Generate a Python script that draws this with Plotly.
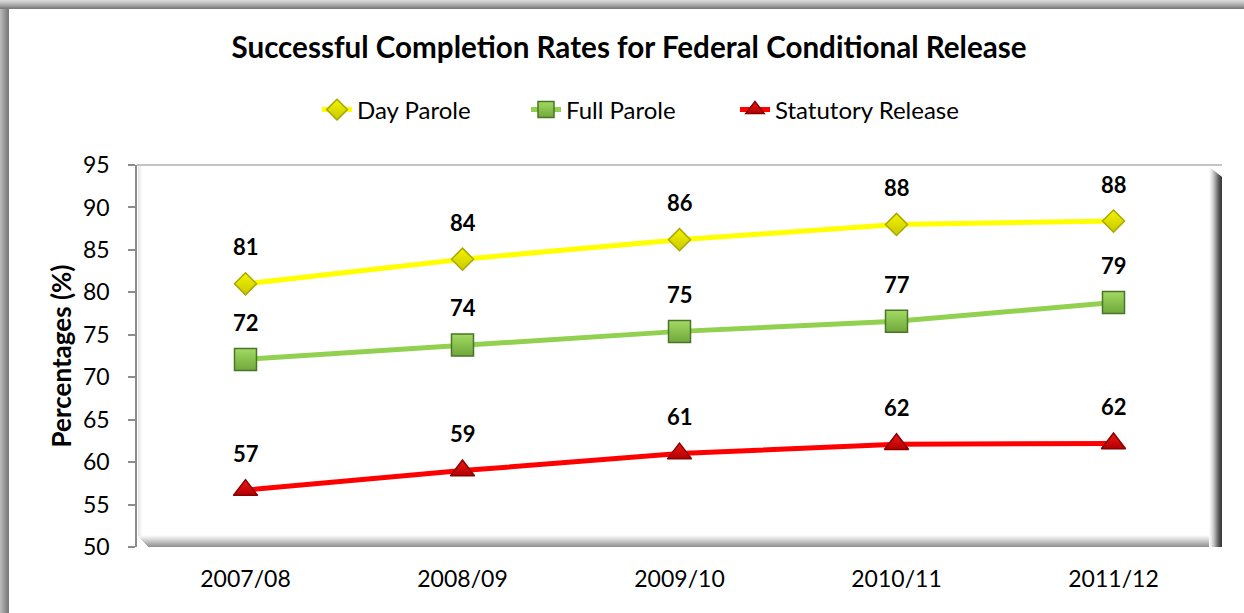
import plotly.graph_objects as go

categories = ["2007/08", "2008/09", "2009/10", "2010/11", "2011/12"]
day_parole = [81.0, 83.9, 86.2, 88.0, 88.4]
full_parole = [72.1, 73.8, 75.4, 76.6, 78.8]
statutory_release = [56.7, 59.0, 61.0, 62.1, 62.2]
y_ticks = [50, 55, 60, 65, 70, 75, 80, 85, 90, 95]

W, H = 1244, 613
L, R, T, B = 137, 22, 165, 66
PW, PH = W - L - R, H - T - B


def px(x):
    return (x - L) / PW


def py(y):
    return (H - B - y) / PH


FONT = "Lato, 'Open Sans', sans-serif"

fig = go.Figure()

series = [
    ("Day Parole", day_parole, "#ffff00", "diamond", "#f4f400", "#a8a800", "#c8c800", 17, "legend"),
    ("Full Parole", full_parole, "#92d050", "square", "#a2da62", "#4a7428", "#70a83c", 22, "legend"),
    ("Statutory Release", statutory_release, "#ff0000", "triangle-up", "#f01818", "#8a0000", "#b00000", 21, "legend2"),
]

for name, vals, col, sym, mfill, edge, grad, size, lg in series:
    fig.add_trace(go.Scatter(
        x=categories, y=vals, name=name, mode="lines+markers", legend=lg,
        line=dict(color=col, width=5),
        marker=dict(symbol=sym, size=size, color=mfill, line=dict(color=edge, width=1.5),
                    gradient=dict(type="vertical", color=grad)),
    ))
    for c, v in zip(categories, vals):
        fig.add_annotation(
            x=c, y=v, text="<b>%d</b>" % round(v), showarrow=False,
            yshift=37, font=dict(family=FONT, size=22, color="black"),
        )

shapes = []
# outer frame bevel (top and left)
top_cols = ["#d8d8d8", "#d0d0d0", "#c6c6c6", "#bcbcbc", "#b0b0b0", "#a4a4a4", "#969696", "#888888", "#7c7c7c"]
for i, c in enumerate(top_cols):
    shapes.append(dict(type="rect", xref="paper", yref="paper", x0=px(0), x1=px(W), y0=py(i), y1=py(i + 1),
                       fillcolor=c, line=dict(width=0), layer="below"))
left_cols = ["#b8b8b8", "#b0b0b0", "#a8a8a8", "#a0a0a0", "#989898", "#909090", "#888888", "#808080", "#7a7a7a"]
for i, c in enumerate(left_cols):
    shapes.append(dict(type="rect", xref="paper", yref="paper", x0=px(i), x1=px(i + 1), y0=py(9), y1=py(H),
                       fillcolor=c, line=dict(width=0), layer="below"))

# plot area bevel
bot_cols = ["#fbfbfb", "#f3f3f3", "#ebebeb", "#e2e2e2", "#d8d8d8", "#cecece", "#c4c4c4", "#bababa", "#b0b0b0", "#a6a6a6", "#9c9c9c", "#929292"]
for i, c in enumerate(bot_cols):
    shapes.append(dict(type="rect", xref="paper", yref="paper", x0=px(137 + i), x1=px(1222 - i * 0.6),
                       y0=py(535 + i), y1=py(536 + i), fillcolor=c, line=dict(width=0), layer="below"))
right_cols = ["#fafafa", "#f0f0f0", "#e4e4e4", "#d6d6d6", "#c6c6c6", "#b4b4b4", "#a0a0a0", "#8a8a8a", "#747474", "#606060", "#505050", "#444444", "#3c3c3c"]
for i, c in enumerate(right_cols):
    shapes.append(dict(type="rect", xref="paper", yref="paper", x0=px(1209 + i), x1=px(1210 + i),
                       y0=py(547), y1=py(167 + i * 0.8), fillcolor=c, line=dict(width=0), layer="below"))
# left inner light shade
left_in = ["#e6e6e6", "#eeeeee", "#f4f4f4", "#f9f9f9"]
for i, c in enumerate(left_in):
    shapes.append(dict(type="rect", xref="paper", yref="paper", x0=px(138 + i), x1=px(139 + i),
                       y0=py(536), y1=py(166), fillcolor=c, line=dict(width=0), layer="below"))
# top edge line
shapes.append(dict(type="line", xref="paper", yref="paper", x0=px(137), x1=px(1222), y0=py(165), y1=py(165),
                   line=dict(color="#b0b0b0", width=1.5), layer="below"))

legend_common = dict(orientation="h", xref="container", xanchor="left",
                     y=1 - 110 / H, yref="container", yanchor="middle",
                     font=dict(family=FONT, size=24, color="black"),
                     bgcolor="rgba(0,0,0,0)", traceorder="normal")

fig.update_layout(
    width=W, height=H,
    margin=dict(l=L, r=R, t=T, b=B),
    paper_bgcolor="white", plot_bgcolor="white",
    title=dict(text="<b>Successful Completion Rates for Federal Conditional Release</b>",
               x=629 / W, xanchor="center", xref="container", y=1 - 48 / H, yanchor="middle",
               font=dict(family=FONT, size=29.6, color="black")),
    showlegend=True,
    legend=dict(x=317 / W, entrywidth=164, entrywidthmode="pixels", **legend_common),
    legend2=dict(x=735 / W, **legend_common),
    shapes=shapes,
    font=dict(family=FONT, size=22, color="black"),
)

fig.update_xaxes(range=[-0.5, 4.5], showgrid=False, zeroline=False, showline=False,
                 ticks="", tickfont=dict(family=FONT, size=23, color="black"), ticklabelstandoff=16)
fig.update_yaxes(range=[50, 95], tickvals=y_ticks, showgrid=False, zeroline=False,
                 showline=True, linecolor="#8c8c8c", linewidth=1.5,
                 ticks="outside", ticklen=7, tickcolor="#8c8c8c", tickwidth=1.5,
                 tickfont=dict(family=FONT, size=23, color="black"), ticklabelstandoff=14,
                 title=dict(text="<b>Percentages (%)</b>", font=dict(family=FONT, size=26, color="black"),
                            standoff=4))

fig.write_html("out.html", config={"displayModeBar": False},
               post_script="document.body.style.margin='0px';")
